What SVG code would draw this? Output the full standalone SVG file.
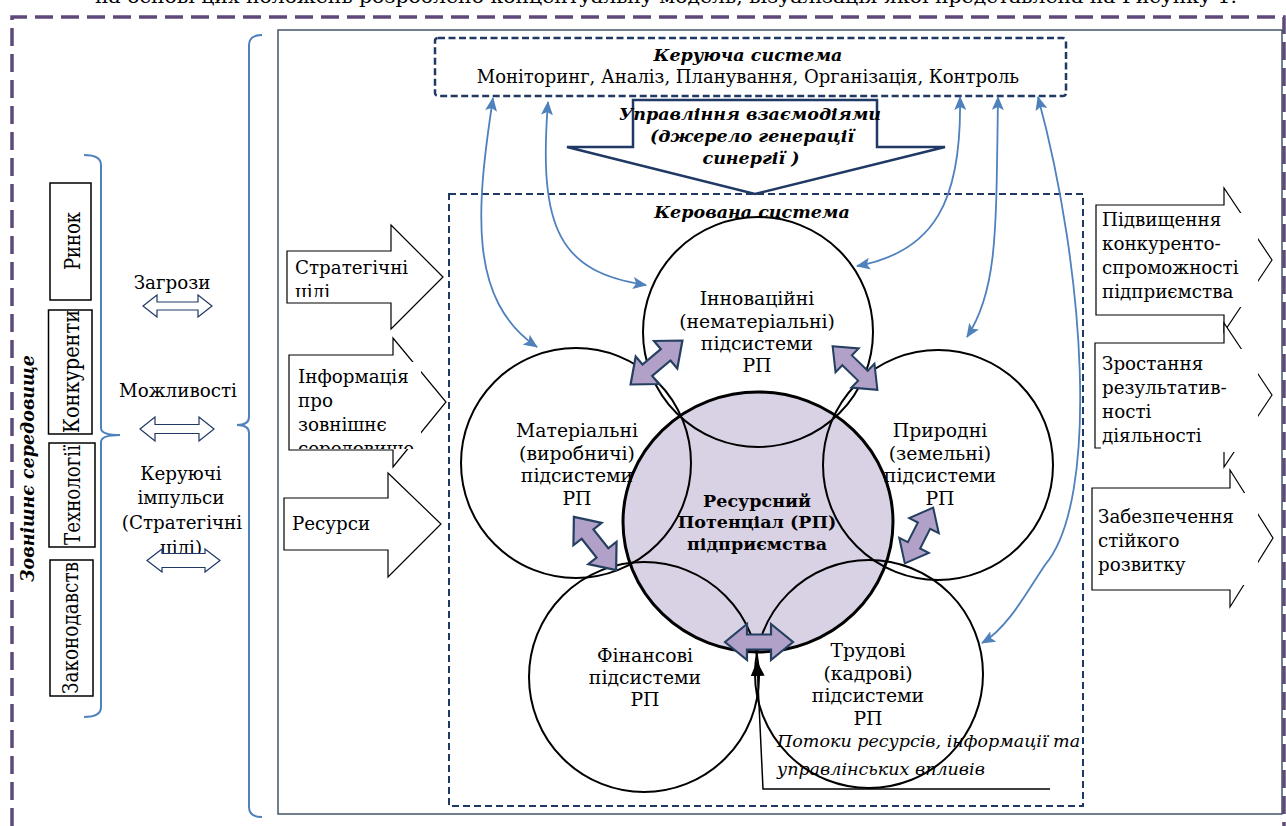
<svg xmlns="http://www.w3.org/2000/svg" xmlns:xlink="http://www.w3.org/1999/xlink" width="1286" height="826" viewBox="0 0 1286 826">
<style>
.t{font-family:"DejaVu Serif","Liberation Serif",serif;font-size:18.3px;fill:#000}
.c{font-size:18.8px}
.m{text-anchor:middle}
.bi{font-weight:bold;font-style:italic;font-size:17.5px}
.b{font-weight:bold;font-size:17.5px}
.i{font-style:italic;font-size:17.5px}
.blk{fill:#fff;stroke:#000;stroke-width:1.2}
.cir{fill:none;stroke:#000;stroke-width:2}
.blue{fill:none;stroke:#4f81bd;stroke-width:1.8}
.brace{fill:none;stroke:#4f81bd;stroke-width:2}
.hol{fill:#fff;stroke:#1f3864;stroke-width:1.2}
.pda{fill:#b1a0c7;stroke:#243f60;stroke-width:2.2;stroke-linejoin:miter}
.vbox{fill:#fff;stroke:#000;stroke-width:1.5}
</style>
<defs>
<marker id="bh" viewBox="0 0 14 12" refX="13" refY="6" markerWidth="14" markerHeight="12" orient="auto-start-reverse" markerUnits="userSpaceOnUse"><path d="M0,0 L14,6 L0,12 L3,6 Z" fill="#4f81bd"/></marker>
<marker id="kh" viewBox="0 0 15 14" refX="14" refY="7" markerWidth="15" markerHeight="14" orient="auto" markerUnits="userSpaceOnUse"><path d="M0,0 L15,7 L0,14 Z" fill="#000"/></marker>
<path id="da" d="M-34,0 L-12,-18 L-12,-7.5 L12,-7.5 L12,-18 L34,0 L12,18 L12,7.5 L-12,7.5 L-12,18 Z"/>
<clipPath id="c1"><rect x="287" y="251" width="130" height="46"/></clipPath>
<clipPath id="c2"><rect x="290" y="362" width="131" height="87"/></clipPath>
</defs>
<rect width="1286" height="826" fill="#fff"/>

<text class="t" x="95" y="3" textLength="1142" lengthAdjust="spacingAndGlyphs" style="font-size:18px">на основі цих положень розроблено концептуальну модель, візуалізація якої представлена на Рисунку 1.</text>

<g id="frame">
<path d="M12,826 L12,17 L1284,17 L1284,826" fill="none" stroke="#5f497a" stroke-width="3.5" stroke-dasharray="18 8"/>
<rect x="278" y="30" width="1004" height="784" fill="none" stroke="#44546a" stroke-width="1.5"/>
</g>

<g id="environment">
<text class="t bi" transform="translate(34,582) rotate(-90)" textLength="227" lengthAdjust="spacingAndGlyphs" style="font-size:19px">Зовнішнє середовище</text>
<path class="brace" d="M84,155 Q101,155 101,165 L101,428 Q101,435 120,435 Q101,435 101,442 L101,707 Q101,717 84,717"/>
</g>

<g id="market"><rect class="vbox" x="50" y="183" width="41" height="117"/><text class="t" transform="translate(80,270) rotate(-90)" textLength="58" lengthAdjust="spacingAndGlyphs" style="font-size:22px">Ринок</text></g>
<g id="competitors"><rect class="vbox" x="48.5" y="310" width="43.5" height="124"/><text class="t" transform="translate(79,433) rotate(-90)" textLength="123" lengthAdjust="spacingAndGlyphs" style="font-size:22px">Конкуренти</text></g>
<g id="technologies"><rect class="vbox" x="49" y="443" width="46" height="104"/><text class="t" transform="translate(80,545) rotate(-90)" textLength="100" lengthAdjust="spacingAndGlyphs" style="font-size:22px">Технології</text></g>
<g id="legislation"><rect class="vbox" x="50" y="560" width="43" height="136"/><text class="t" transform="translate(78,694) rotate(-90)" textLength="132" lengthAdjust="spacingAndGlyphs" style="font-size:22px">Законодавств</text></g>

<g id="threats">
<text class="t m" x="172" y="289">Загрози</text>
<path class="hol" d="M143,306 L157,295 L157,302 L198,302 L198,295 L212,306 L198,317 L198,310 L157,310 L157,317 Z"/>
</g>
<g id="opportunities">
<text class="t m" x="178" y="397">Можливості</text>
<path class="hol" d="M140,429 L155,417 L155,424.5 L199,424.5 L199,417 L214,429 L199,441 L199,433.5 L155,433.5 L155,441 Z"/>
</g>
<g id="impulses">
<text class="t m" x="181" y="480">Керуючі</text>
<text class="t m" x="181" y="504">імпульси</text>
<text class="t m" x="182" y="529">(Стратегічні</text>
<text class="t m" x="181" y="554">цілі)</text>
<path class="hol" d="M147,560.5 L162,549 L162,553.5 L205,553.5 L205,549 L220,560.5 L205,572 L205,567.5 L162,567.5 L162,572 Z"/>
</g>

<g id="big-brace"><path class="brace" d="M262,35 Q249,35 249,45 L249,417 Q249,425 237,425 Q249,425 249,433 L249,807 Q249,817 262,817"/></g>

<g id="in-goals">
<path class="blk" d="M287,251 L391,251 L391,225 L443,277 L391,329 L391,303 L287,303 Z"/>
<g clip-path="url(#c1)"><text class="t" x="295" y="274">Стратегічні</text><text class="t" x="295" y="298">цілі</text></g>
</g>
<g id="in-info">
<path class="blk" d="M289,355 L393,355 L393,338 L446,402 L393,467 L393,450 L289,450 Z"/>
<rect x="290" y="362" width="131" height="87" fill="#fff"/>
<g clip-path="url(#c2)"><text class="t" x="298" y="383">Інформація</text><text class="t" x="298" y="407">про</text><text class="t" x="298" y="431">зовнішнє</text><text class="t" x="298" y="455">середовище</text></g>
</g>
<g id="in-resources">
<path class="blk" d="M284,498 L388,498 L388,473 L441,524 L388,577 L388,550 L284,550 Z"/>
<text class="t" x="292" y="530">Ресурси</text>
</g>

<g id="out-competitiveness">
<path class="blk" d="M1096,205 L1224,205 L1224,188 L1272,260 L1224,332 L1224,315 L1096,315 Z"/>
<rect x="1100" y="213" width="158" height="94" fill="#fff"/>
<text class="t" x="1102" y="226">Підвищення</text><text class="t" x="1102" y="250">конкуренто-</text><text class="t" x="1102" y="274">спроможності</text><text class="t" x="1102" y="298">підприємства</text>
</g>
<g id="out-effectiveness">
<path class="blk" d="M1095,343 L1224,343 L1224,323 L1272,395 L1224,467 L1224,448 L1095,448 Z"/>
<rect x="1101" y="349" width="157" height="103" fill="#fff"/>
<text class="t" x="1102" y="370">Зростання</text><text class="t" x="1102" y="394">результатив-</text><text class="t" x="1102" y="418">ності</text><text class="t" x="1102" y="442">діяльності</text>
</g>
<g id="out-sustainable">
<path class="blk" d="M1092,488 L1230,488 L1230,470 L1273,538 L1230,607 L1230,590 L1092,590 Z"/>
<rect x="1097" y="493" width="161" height="92" fill="#fff"/>
<text class="t" x="1098" y="523">Забезпечення</text><text class="t" x="1098" y="547">стійкого</text><text class="t" x="1098" y="571">розвитку</text>
</g>

<g id="managing-system">
<rect x="435" y="38" width="631" height="58" rx="3" fill="#fff" stroke="#1f3864" stroke-width="2.5" stroke-dasharray="7 3.5"/>
<text class="t m bi" x="748" y="61">Керуюча система</text>
<text class="t m" x="748" y="83" style="font-size:18px">Моніторинг, Аналіз, Планування, Організація, Контроль</text>
</g>

<g id="interaction-management">
<path d="M633,100 L877,100 L877,147 L945,147 L755,194 L567,147 L633,147 Z" fill="#fff" stroke="#1f3864" stroke-width="2.5" stroke-linejoin="miter"/>
<text class="t m bi" x="750" y="120">Управління взаємодіями</text>
<text class="t m bi" x="752" y="142">(джерело генерації</text>
<text class="t m bi" x="751" y="164">синергії )</text>
</g>

<g id="managed-system">
<rect x="449" y="194" width="634" height="612" fill="none" stroke="#1f3864" stroke-width="2" stroke-dasharray="7 4"/>
<text class="t m bi" x="752" y="218">Керована система</text>
</g>

<g id="core"><ellipse cx="758" cy="522" rx="135" ry="130" fill="#d9d1e4" stroke="#000" stroke-width="3"/></g>
<g id="innovation"><circle class="cir" cx="758" cy="332" r="115"/></g>
<g id="material"><circle class="cir" cx="576" cy="463" r="115"/></g>
<g id="natural"><circle class="cir" cx="938" cy="465" r="115"/></g>
<g id="financial"><circle class="cir" cx="644" cy="677" r="115"/></g>
<g id="labor"><circle class="cir" cx="869" cy="674" r="114"/></g>

<g id="labels">
<text class="t c m" x="757" y="305">Інноваційні</text><text class="t c m" x="757" y="328">(нематеріальні)</text><text class="t c m" x="757" y="350">підсистеми</text><text class="t c m" x="757" y="372">РП</text>
<text class="t c m" x="577" y="437">Матеріальні</text><text class="t c m" x="577" y="460">(виробничі)</text><text class="t c m" x="577" y="482">підсистеми</text><text class="t c m" x="577" y="505">РП</text>
<text class="t c m" x="940" y="437">Природні</text><text class="t c m" x="940" y="460">(земельні)</text><text class="t c m" x="940" y="482">підсистеми</text><text class="t c m" x="940" y="505">РП</text>
<text class="t m b" x="757" y="507">Ресурсний</text><text class="t m b" x="757" y="528">Потенціал (РП)</text><text class="t m b" x="757" y="550">підприємства</text>
<text class="t c m" x="645" y="662">Фінансові</text><text class="t c m" x="645" y="684">підсистеми</text><text class="t c m" x="645" y="706">РП</text>
<text class="t c m" x="868" y="657">Трудові</text><text class="t c m" x="868" y="680">(кадрові)</text><text class="t c m" x="868" y="702">підсистеми</text><text class="t c m" x="868" y="725">РП</text>
<text class="t i" x="777" y="747">Потоки ресурсів, інформації та</text>
<text class="t i" x="777" y="775">управлінських впливів</text>
</g>

<g id="connectors">
<path class="blue" d="M493,98 C476,210 468,300 537,347" marker-start="url(#bh)" marker-end="url(#bh)"/>
<path class="blue" d="M548,102 C538,230 560,272 646,285" marker-start="url(#bh)" marker-end="url(#bh)"/>
<path class="blue" d="M960,97 C962,200 935,252 857,266" marker-start="url(#bh)" marker-end="url(#bh)"/>
<path class="blue" d="M998,97 C996,230 998,290 967,337" marker-start="url(#bh)" marker-end="url(#bh)"/>
<path class="blue" d="M1038,97 C1085,270 1100,500 1045,565 C1028,590 1008,628 982,643" marker-start="url(#bh)" marker-end="url(#bh)"/>
<path d="M1050,789 L763,789 L757,662" fill="none" stroke="#000" stroke-width="1.5" marker-end="url(#kh)"/>
<use xlink:href="#da" class="pda" transform="translate(656.5,362.5) rotate(-40.3)"/>
<use xlink:href="#da" class="pda" transform="translate(855,368) rotate(44.3) scale(0.92)"/>
<use xlink:href="#da" class="pda" transform="translate(595,543.5) rotate(51.6)"/>
<use xlink:href="#da" class="pda" transform="translate(919,535.5) rotate(-63) scale(0.92)"/>
<use xlink:href="#da" class="pda" transform="translate(759,642)"/>
</g>
</svg>
